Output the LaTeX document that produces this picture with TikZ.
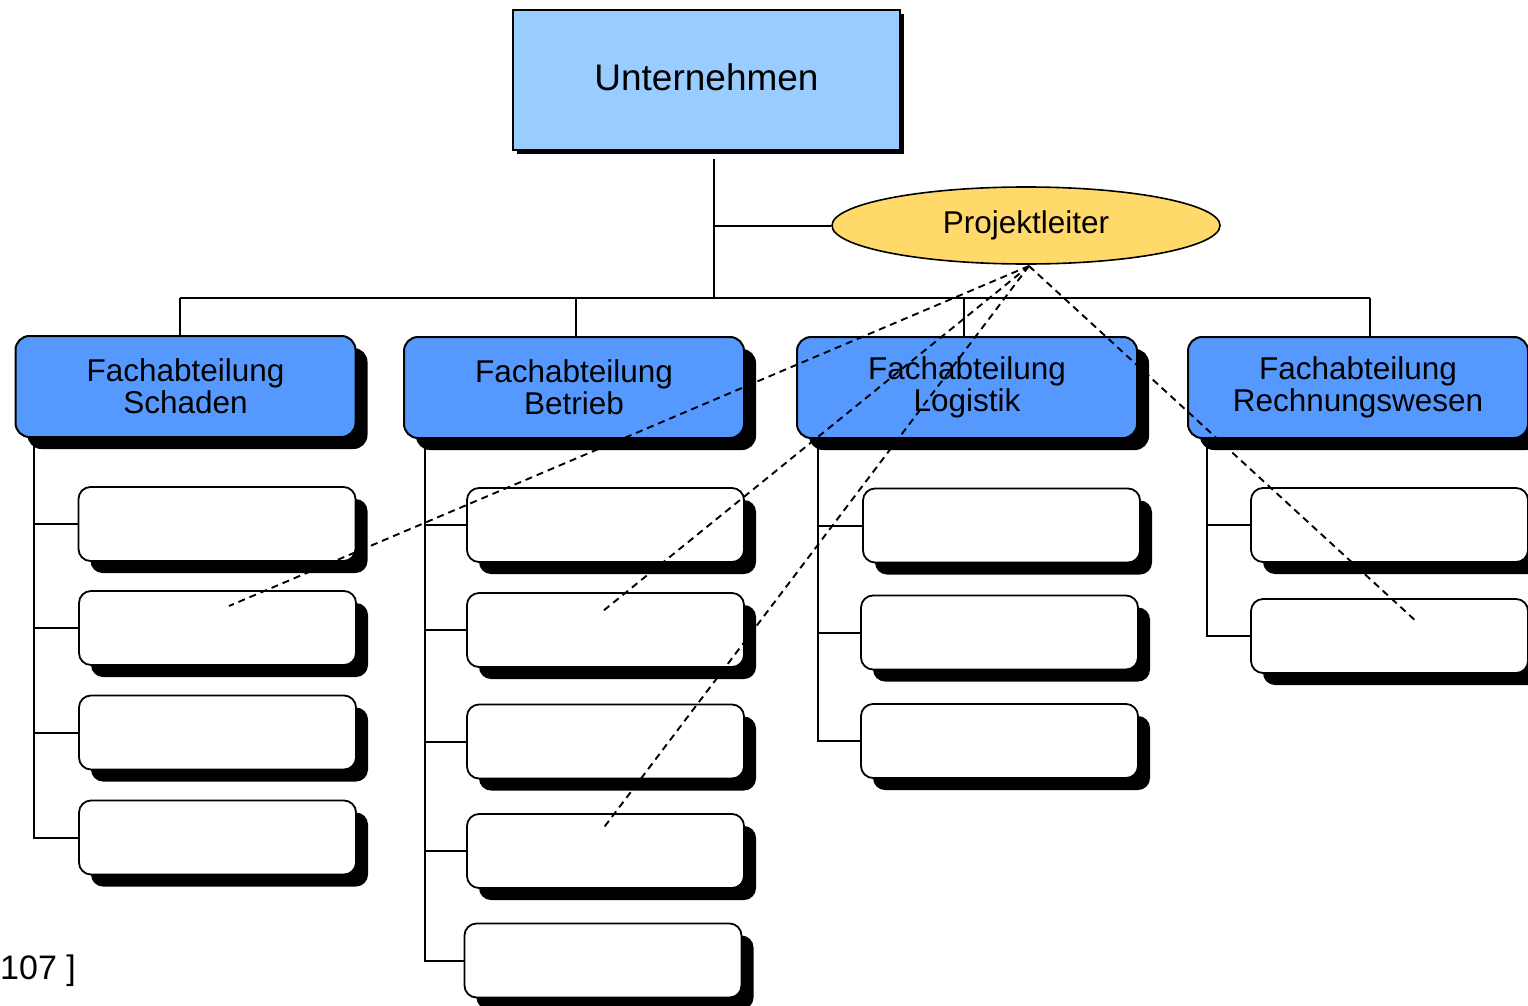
\documentclass[tikz,border=0pt]{standalone}
\usepackage{fontspec}
\setmainfont{Liberation Sans}
\usetikzlibrary{shapes.geometric,shadows,backgrounds}
\definecolor{topblue}{HTML}{99CCFF}
\definecolor{deptblue}{HTML}{5599FF}
\definecolor{pyellow}{HTML}{FFDA6A}
\tikzset{
  conn/.style={line width=2pt, black},
  dashconn/.style={line width=1.9pt, dash pattern=on 7pt off 5pt},
  topbox/.style={draw, line width=2pt, fill=topblue, minimum width=387pt, minimum height=140pt,
    inner sep=0pt, text depth=6pt, general shadow={fill=black, shadow xshift=4pt, shadow yshift=-4pt},
    font=\fontsize{37}{40}\selectfont},
  leader/.style={ellipse, draw, line width=1.6pt, fill=pyellow, minimum width=388pt, minimum height=77pt,
    inner sep=0pt, font=\fontsize{31.5}{32}\selectfont},
  dept/.style={draw, line width=2pt, fill=deptblue, rounded corners=14pt, minimum width=340pt,
    minimum height=101pt, inner sep=0pt, align=center,
    general shadow={fill=black, shadow xshift=12pt, shadow yshift=-12pt},
    font=\fontsize{31.5}{32}\selectfont},
  sub/.style={draw, line width=1.8pt, fill=white, rounded corners=12pt, minimum width=277pt,
    minimum height=74pt, inner sep=0pt,
    general shadow={fill=black, shadow xshift=12pt, shadow yshift=-12pt}},
}
\begin{document}
\begin{tikzpicture}[x=1pt,y=-1pt]
\useasboundingbox (0,0) rectangle (1528,1006);
\clip (0,0) rectangle (1528,1006);

% nodes
\node[topbox] (unt) at (706.5,80) {Unternehmen};
\node[leader] (pl) at (1026,225.5) {Projektleiter};

\node[dept] (dS) at (185.5,386.5) {Fachabteilung\\Schaden};
\node[dept] (dB) at (574,387.5) {Fachabteilung\\Betrieb};
\node[dept] (dL) at (967,387.5) {Fachabteilung\\Logistik};
\node[dept] (dR) at (1358,387.5) {Fachabteilung\\Rechnungswesen};

\node[sub] (s1) at (217,524) {};
\node[sub] (s2) at (217.5,628) {};
\node[sub] (s3) at (217.5,732.5) {};
\node[sub] (s4) at (217.5,837.5) {};

\node[sub] (b1) at (605.5,525) {};
\node[sub] (b2) at (605.5,630) {};
\node[sub] (b3) at (605.5,741.5) {};
\node[sub] (b4) at (605.5,851) {};
\node[sub] (b5) at (603,960.5) {};

\node[sub] (l1) at (1001.5,525.5) {};
\node[sub] (l2) at (999.5,632.5) {};
\node[sub] (l3) at (999.5,741) {};

\node[sub] (r1) at (1389.5,525) {};
\node[sub] (r2) at (1389.5,636) {};

\node[anchor=base west, inner sep=0pt, font=\fontsize{34}{36}\selectfont] (ref) at (0,979) {107 ]};

% coordinates
\coordinate (trunkTop) at (714,159);
\coordinate (trunkBot) at (714,298);
\coordinate (busL) at (180,298);
\coordinate (busR) at (1370,298);
\coordinate (tS) at (34,440);
\coordinate (tB) at (425,440);
\coordinate (tL) at (818,440);
\coordinate (tR) at (1207,440);

\begin{scope}[on background layer]
  \draw[conn] (trunkTop) -- (trunkBot);
  \draw[conn] (trunkTop |- pl.west) -- (pl.west);
  \draw[conn] (busL) -- (busR);
  \draw[conn] (busL) -- (busL |- dS.north);
  \draw[conn] (576,298) -- (576,337);
  \draw[conn] (964,298) -- (964,337);
  \draw[conn] (busR) -- (busR |- dR.north);
  % trees
  \draw[conn] (tS) |- (s4.west);
  \draw[conn] (tS |- s1.west) -- (s1.west);
  \draw[conn] (tS |- s2.west) -- (s2.west);
  \draw[conn] (tS |- s3.west) -- (s3.west);
  \draw[conn] (tB) |- (b5.west);
  \draw[conn] (tB |- b1.west) -- (b1.west);
  \draw[conn] (tB |- b2.west) -- (b2.west);
  \draw[conn] (tB |- b3.west) -- (b3.west);
  \draw[conn] (tB |- b4.west) -- (b4.west);
  \draw[conn] (tL) |- (l3.west);
  \draw[conn] (tL |- l1.west) -- (l1.west);
  \draw[conn] (tL |- l2.west) -- (l2.west);
  \draw[conn] (tR) |- (r2.west);
  \draw[conn] (tR |- r1.west) -- (r1.west);
\end{scope}

% dashed relations from Projektleiter
\coordinate (apex) at (1029,266);
\coordinate (e1) at (229,606);
\coordinate (e2) at (603,611);
\coordinate (e3) at (602,830);
\coordinate (e4) at (1418,623);
\draw[dashconn] (apex) -- (e1);
\draw[dashconn] (apex) -- (e2);
\draw[dashconn] (apex) -- (e3);
\draw[dashconn] (apex) -- (e4);
\end{tikzpicture}
\end{document}
